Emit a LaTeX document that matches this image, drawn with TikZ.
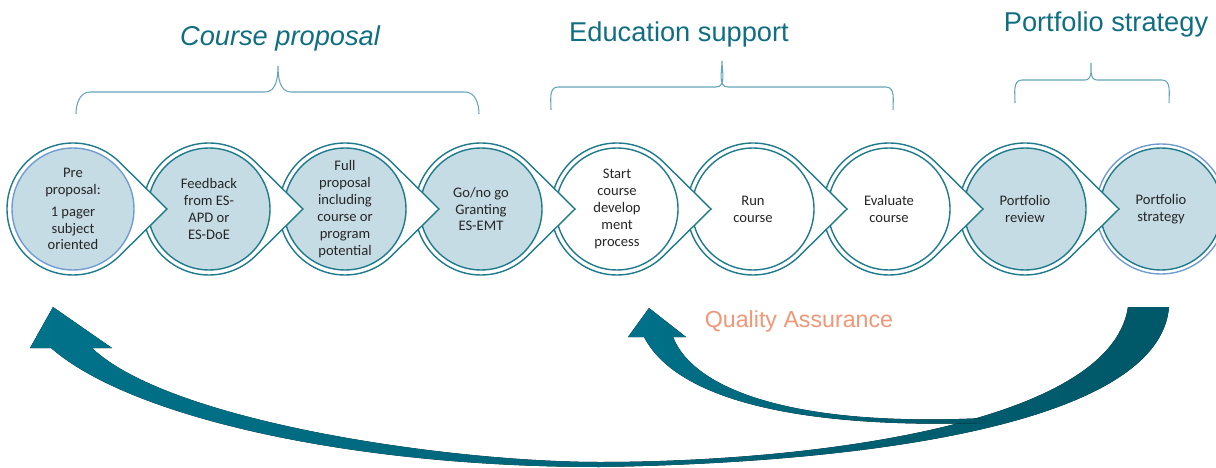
\documentclass[tikz,border=0pt]{standalone}
\usepackage{fontspec}
\setmainfont{Carlito}
\newfontfamily\arialfont{Liberation Sans}
\usetikzlibrary{calc}

\definecolor{ringteal}{RGB}{31,122,140}
\definecolor{ringblue}{RGB}{112,156,210}
\definecolor{stepfill}{RGB}{198,220,229}
\definecolor{headteal}{RGB}{16,110,130}
\definecolor{bracecol}{RGB}{100,165,185}
\definecolor{qacol}{RGB}{242,150,118}
\definecolor{arrowlight}{RGB}{0,114,138}
\definecolor{arrowdark}{RGB}{0,88,104}

\tikzset{
  stage/.style={circle, draw=ringteal, line width=0.8pt, minimum size=2.44cm,
    inner sep=0pt, align=center, text=black!85,
    font=\fontsize{8.3}{9.6}\selectfont},
  dropline/.style={draw=ringteal, line width=0.8pt, fill=white},
  bracket/.style={draw=bracecol, line width=0.6pt},
  heading/.style={text=headteal, anchor=base,
    font=\arialfont\fontsize{15.5}{18}\selectfont},
  bigarrow/.style={left color=arrowlight, right color=arrowdark}
}
\newcommand{\teardrop}[1]{\filldraw[dropline] ($(#1)+(45.4:66)$)
  arc[start angle=45.4, end angle=314.6, radius=66] -- ($(#1)+(94,0)$) -- cycle;}

\begin{document}
\begin{tikzpicture}[x=0.02cm, y=0.02cm]
  \useasboundingbox (0,0) rectangle (1216,467);
  % headings
  \node[heading] (CPT) at (280,421) {\itshape Course proposal};
  \node[heading] (EST) at (679,425) {Education support};
  \node[heading] (PST) at (1106,435) {Portfolio strategy};
  % braces
  \draw[bracket] (76,353) to[out=90,in=180] (90,375) -- (265,375)
    to[out=0,in=-90] (278,401) to[out=-90,in=180] (291,375) -- (465,375)
    to[out=0,in=90] (479,353);
  \draw[bracket] (551,357) to[out=90,in=180] (558,380) -- (716,380)
    to[out=0,in=-90] (722,406) to[out=-90,in=180] (728,380) -- (886,380)
    to[out=0,in=90] (893,357);
  \draw[bracket] (1015,364) to[out=90,in=180] (1022,387) -- (1085,387)
    to[out=0,in=-90] (1091,404) to[out=-90,in=180] (1097,387) -- (1162,387)
    to[out=0,in=90] (1169,364);
  % stages, right to left
  \draw[draw=ringblue, line width=0.8pt] (1161,258) circle[radius=65];
  \node[stage, fill=stepfill] (PS) at (1161,258) {Portfolio\\strategy};
  \teardrop{1025,258}
  \node[stage, fill=stepfill] (PR) at (1025,258) {Portfolio\\review};
  \teardrop{889,258}
  \node[stage, fill=white] (EC) at (889,258) {Evaluate\\course};
  \teardrop{753,258}
  \node[stage, fill=white] (RC) at (753,258) {Run\\course};
  \teardrop{617,258}
  \node[stage, fill=white] (SD) at (617,258) {Start\\course\\develop\\ment\\process};
  \teardrop{481,258}
  \node[stage, fill=stepfill] (GO) at (481,258) {Go/no go\\Granting\\ES-EMT};
  \teardrop{345,258}
  \node[stage, fill=stepfill] (FP) at (345,258) {Full\\proposal\\including\\course or\\program\\potential};
  \teardrop{209,258}
  \node[stage, fill=stepfill] (FB) at (209,258) {Feedback\\from ES-\\APD or\\ES-DoE};
  \teardrop{73,258}
  \node[stage, fill=stepfill, draw=ringblue] (PP) at (73,258) {Pre\\proposal:\\[3pt]1 pager\\subject\\oriented};
  % feedback arrows
  \fill[bigarrow] (53,160) -- (112,119) -- (92,119)
    .. controls (170,45) and (450,5) .. (600,5)
    .. controls (800,5) and (1110,40) .. (1128,160) -- (1169,160)
    .. controls (1160,50) and (900,5) .. (600,0)
    .. controls (350,0) and (130,50) .. (51,119) -- (30,119) -- cycle;
  \fill[bigarrow] (649,159) -- (686,130) -- (673,130)
    .. controls (695,75) and (800,40) .. (985,49) -- (985,44)
    .. controls (790,38) and (675,70) .. (644,130) -- (628,130) -- cycle;
  \node[anchor=base, text=qacol, font=\arialfont\fontsize{13.2}{16}\selectfont] (QA) at (799,140) {Quality Assurance};
\end{tikzpicture}
\end{document}
